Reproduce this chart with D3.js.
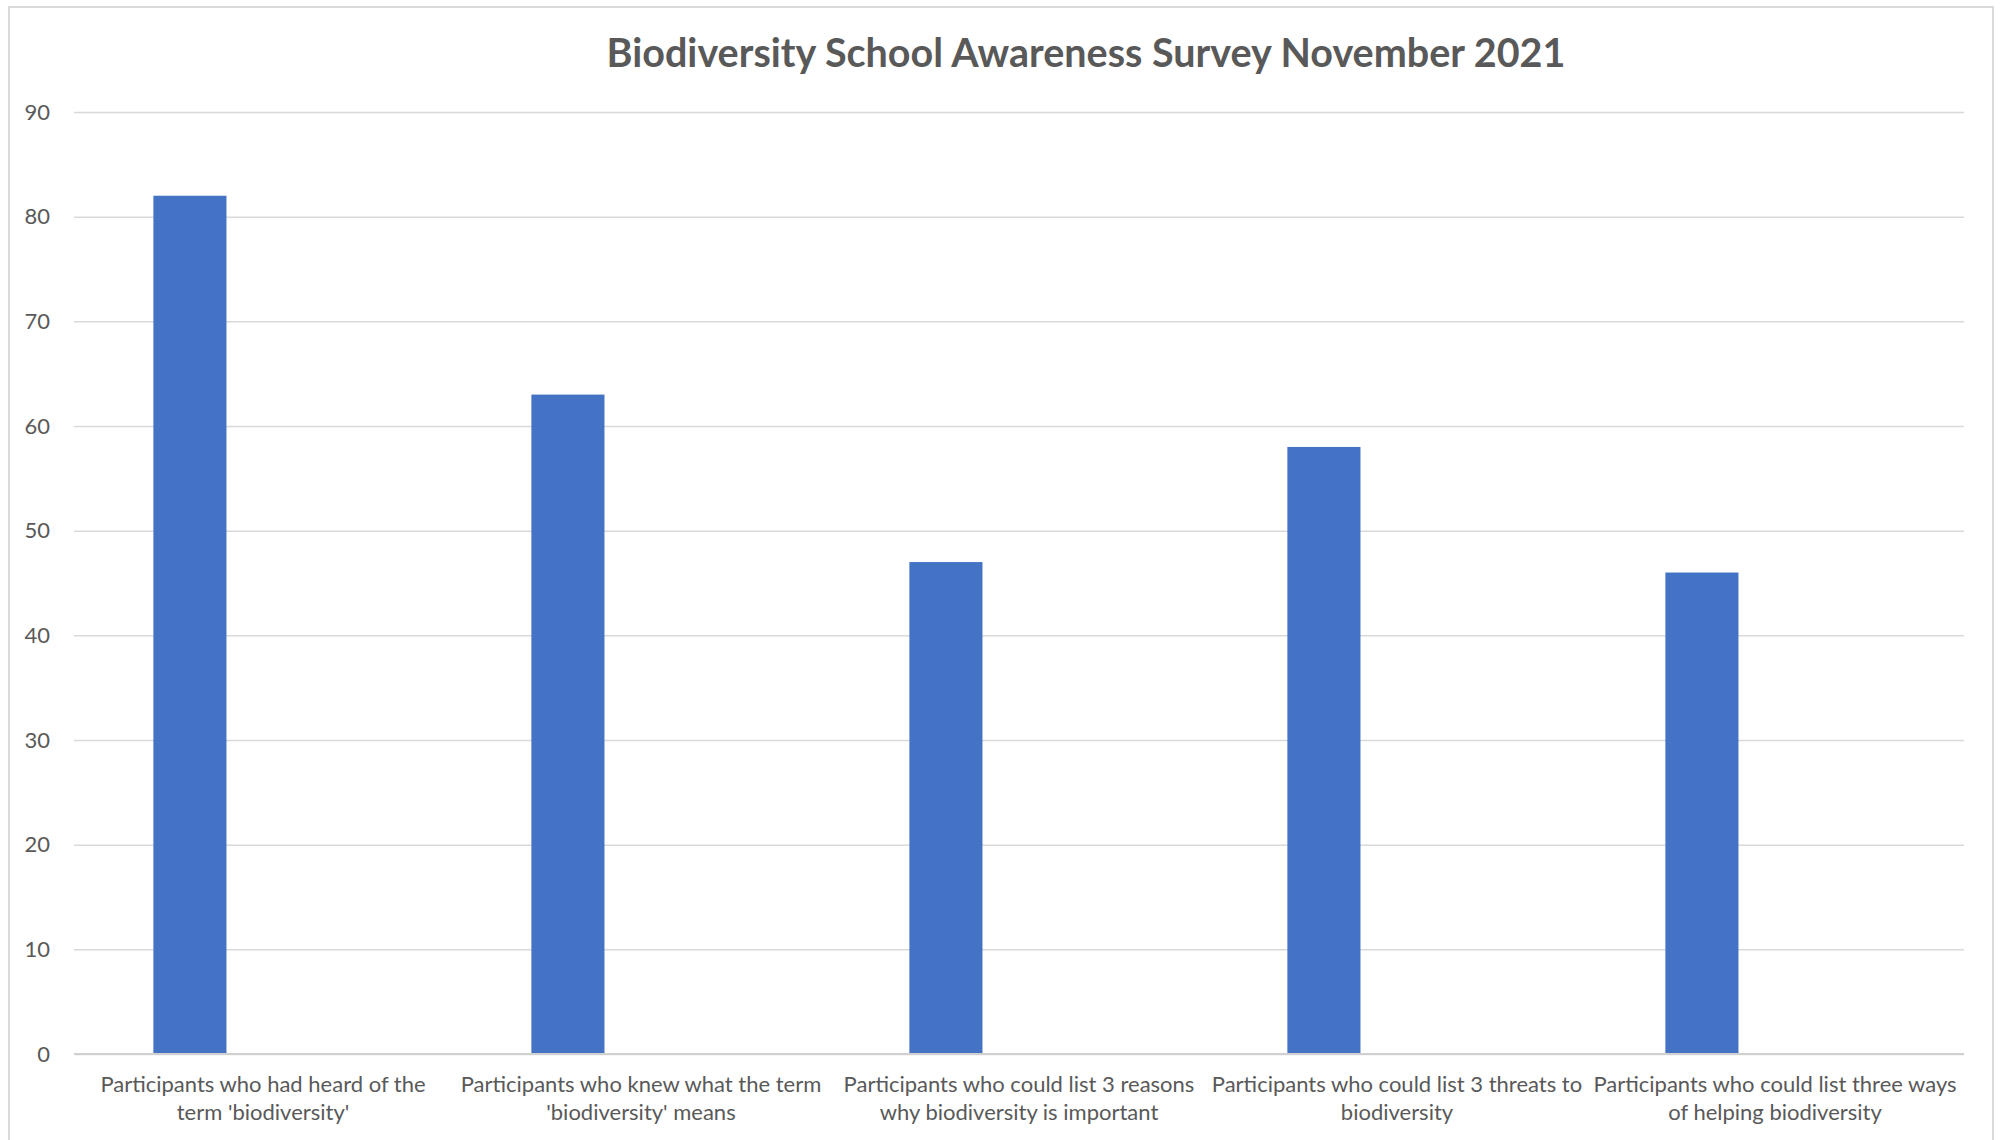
<!DOCTYPE html>
<html>
<head>
<meta charset="utf-8">
<script src="https://cdn.jsdelivr.net/npm/d3@7"></script>
<style>
  body { margin: 0; background: #fff; }
  text { font-family: Lato, "Open Sans", sans-serif; fill: #595959; }
</style>
</head>
<body>
<div id="chart"></div>
<script>
/* Biodiversity survey bar chart */

const categories = [
    "Participants who had heard of the\nterm 'biodiversity'",
    "Participants who knew what the term\n'biodiversity' means",
    "Participants who could list 3 reasons\nwhy biodiversity is important",
    "Participants who could list 3 threats to\nbiodiversity",
    "Participants who could list three ways\nof helping biodiversity"
];
const values = [82, 63, 47, 58, 46];
const yTicks = [0, 10, 20, 30, 40, 50, 60, 70, 80, 90];
const title = "Biodiversity School Awareness Survey November 2021";

const width = 2000,
      height = 1140,
      margin = ({ top: 112, right: 36, bottom: 86, left: 74 });

let svg = d3.select("#chart")
    .append("svg")
    .attr("width", width)
    .attr("height", height);

// chart border
svg.append("rect")
    .attr("x", 9).attr("y", 7)
    .attr("width", 1984).attr("height", 1150)
    .attr("fill", "none")
    .attr("stroke", "#d9d9d9")
    .attr("stroke-width", 2);

let x = d3.scaleBand()
    .domain(categories)
    .range([margin.left, width - margin.right]);

// excel leaves room for 3 bars per slot, only the first one has data
let xInner = d3.scaleBand()
    .domain([0, 1, 2])
    .range([x.bandwidth() * 0.21, x.bandwidth() * 0.79]);

let y = d3.scaleLinear()
    .domain([0, 90])
    .range([height - margin.bottom, margin.top]);

// gridlines + y labels
let yAxis = svg.append("g")
    .attr("transform", `translate(${margin.left},0)`)
    .call(d3.axisLeft(y).tickValues(yTicks).tickSize(-(width - margin.left - margin.right)).tickPadding(24));

yAxis.select(".domain").remove();
yAxis.selectAll(".tick line")
    .attr("stroke", "#d9d9d9")
    .attr("stroke-width", 1.5);
yAxis.selectAll(".tick text")
    .style("font-size", "22px")
    .style("fill", "#595959");

// bars
svg.selectAll(".bar")
    .data(values)
    .join("rect")
    .attr("class", "bar")
    .attr("fill", "#4472c4")
    .attr("x", (d, i) => x(categories[i]) + xInner(0))
    .attr("width", xInner.bandwidth())
    .attr("y", d => y(d))
    .attr("height", d => y(0) - y(d));

// baseline
svg.append("line")
    .attr("x1", margin.left).attr("x2", width - margin.right)
    .attr("y1", y(0)).attr("y2", y(0))
    .attr("stroke", "#d0d0d0")
    .attr("stroke-width", 2);

// category labels, two lines each
let labels = svg.selectAll(".xlabel")
    .data(categories)
    .join("text")
    .attr("class", "xlabel")
    .attr("text-anchor", "middle")
    .style("font-size", "22px");

labels.selectAll("tspan")
    .data(d => d.split("\n").map(t => ({ t, c: d })))
    .join("tspan")
    .attr("x", d => x(d.c) + x.bandwidth() / 2)
    .attr("y", (d, i) => y(0) + 38 + i * 28)
    .text(d => d.t);

// title
svg.append("text")
    .attr("x", 1086)
    .attr("y", 67)
    .attr("text-anchor", "middle")
    .style("font-size", "39.5px")
    .style("font-weight", "bold")
    .text(title);
</script>
</body>
</html>
